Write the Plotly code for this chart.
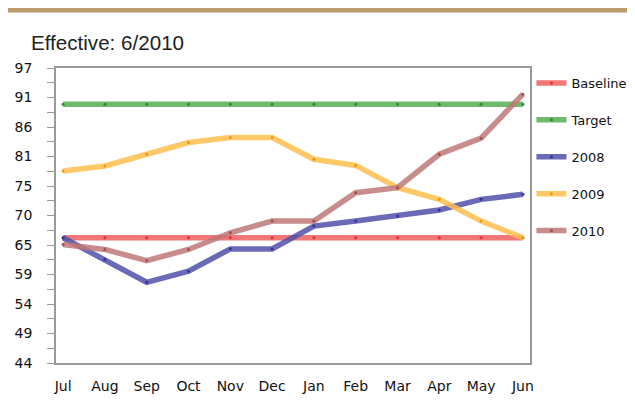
import plotly.graph_objects as go

months = ["Jul", "Aug", "Sep", "Oct", "Nov", "Dec", "Jan", "Feb", "Mar", "Apr", "May", "Jun"]

baseline = [66.5] * 12
target = [90.5] * 12
y2008 = [66.5, 62.6, 58.5, 60.5, 64.5, 64.5, 68.6, 69.5, 70.4, 71.5, 73.4, 74.3]
y2009 = [78.5, 79.4, 81.5, 83.6, 84.5, 84.5, 80.6, 79.5, 75.5, 73.4, 69.5, 66.5]
y2010 = [65.3, 64.4, 62.4, 64.4, 67.4, 69.5, 69.5, 74.6, 75.5, 81.5, 84.4, 92.3]

# y axis: 44..97 in ten steps, labels truncated like the source
ytick_vals = [44 + 5.3 * i for i in range(11)]
ytick_text = ["44", "49", "54", "59", "65", "70", "75", "81", "86", "91", "97"]

series = [
    ("Baseline", baseline, "rgba(240,95,95,0.85)", "#e03030"),
    ("Target", target, "rgba(85,175,85,0.85)", "#2e8b2e"),
    ("2008", y2008, "rgba(80,80,170,0.85)", "#333399"),
    ("2009", y2009, "rgba(255,192,80,0.85)", "#e89a10"),
    ("2010", y2010, "rgba(190,120,120,0.85)", "#a05050"),
]

fig = go.Figure()
for name, vals, col, mcol in series:
    fig.add_trace(go.Scatter(
        x=months,
        y=vals,
        name=name,
        legendgroup=name,
        mode="lines+markers",
        line=dict(color=col, width=5.5),
        marker=dict(color=mcol, size=3),
    ))

# page has an 8px body margin, so the figure is a bit smaller than the window
W, H = 627, 405
fig.update_layout(
    width=W,
    height=H,
    margin=dict(l=48, r=105, t=60, b=50, autoexpand=False),
    paper_bgcolor="white",
    plot_bgcolor="white",
    font=dict(family="DejaVu Sans", size=14, color="#111111"),
    title=dict(
        text="Effective: 6/2010",
        x=23 / W, xanchor="left",
        y=1 - 35 / H, yanchor="middle",
        font=dict(family="Liberation Sans", size=20.6, color="#222222"),
    ),
    showlegend=True,
    legend=dict(
        x=1.003, xanchor="left",
        y=1.0, yanchor="top",
        tracegroupgap=17,
        itemwidth=30,
        font=dict(family="DejaVu Sans", size=13, color="#111111"),
        bgcolor="rgba(0,0,0,0)",
    ),
    xaxis=dict(
        type="category",
        range=[-0.17, 11.17],
        showgrid=False,
        showline=True,
        linecolor="#9a9a9a",
        linewidth=1.5,
        mirror=True,
        ticks="",
        ticklabelstandoff=9,
        tickfont=dict(family="DejaVu Sans", size=14),
    ),
    yaxis=dict(
        range=[44, 97],
        tickvals=ytick_vals,
        ticktext=ytick_text,
        showgrid=False,
        zeroline=False,
        showline=True,
        linecolor="#9a9a9a",
        linewidth=1.5,
        mirror=True,
        ticks="outside",
        ticklen=7,
        tickcolor="#9a9a9a",
        ticklabelstandoff=12,
        tickfont=dict(family="DejaVu Sans", size=14),
        minor=dict(tick0=44, dtick=2.65, ticks="outside", ticklen=7, tickcolor="#9a9a9a"),
    ),
    shapes=[dict(
        type="rect", xref="paper", yref="paper",
        x0=-0.2, x1=1.3, y0=1.0 + 55.5 / 295, y1=1.3,
        fillcolor="#bc9b6b", line=dict(width=0), layer="below",
    )],
)

fig.write_html("out.html")
